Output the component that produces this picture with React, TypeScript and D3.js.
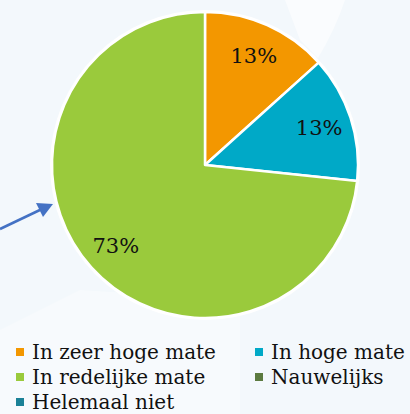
import React from "react";
import * as d3 from "d3";

const categories = ["In zeer hoge mate", "In hoge mate", "In redelijke mate", "Nauwelijks", "Helemaal niet"];
const values = [2, 2, 11, 0, 0];
const labels = ["13%", "13%", "73%", "", ""];
const colors = ["#F39700", "#00A9C7", "#9ACA3C", "#5B7A40", "#1B8197"];

const W = 410;
const H = 414;
const FONT = "'DejaVu Serif', 'Liberation Serif', Georgia, serif";

export default function App() {
  const cx = 205;
  const cy = 165;
  const r = 153;
  const pie = d3.pie<number>().sort(null).value((d) => d)(values);
  const arc = d3.arc<d3.PieArcDatum<number>>().innerRadius(0).outerRadius(r);
  const labelArc = d3.arc<d3.PieArcDatum<number>>().innerRadius(120).outerRadius(120);

  const legendPos = [
    { x: 16, y: 359 },
    { x: 255, y: 359 },
    { x: 16, y: 384 },
    { x: 255, y: 384 },
    { x: 16, y: 409 },
  ];

  return (
    <div style={{ position: "fixed", left: 0, top: 0 }}>
      <svg width={W} height={H} style={{ display: "block" }}>
        <rect x={0} y={0} width={W} height={H} fill="#F3F8FC" />
        <path d="M285,0 L345,0 Q335,30 318,58 L300,40 Z" fill="#FFFFFF" opacity={0.6} />
        <path d="M0,330 L80,290 L240,300 L240,414 L0,414 Z" fill="#FFFFFF" opacity={0.35} />
        <g transform={`translate(${cx},${cy})`}>
          <circle r={r + 2} fill="#FFFFFF" />
          {pie.map((p, i) =>
            p.value > 0 ? (
              <path key={i} d={arc(p) || ""} fill={colors[i]} stroke="#FFFFFF" strokeWidth={2.5} strokeLinejoin="round" />
            ) : null
          )}
          {pie.map((p, i) => {
            if (p.value <= 0) return null;
            const [lx, ly] = labelArc.centroid(p);
            return (
              <text
                key={"l" + i}
                x={lx}
                y={ly}
                dy="0.35em"
                textAnchor="middle"
                fontFamily={FONT}
                fontSize={21}
                fill="#111111"
              >
                {labels[i]}
              </text>
            );
          })}
        </g>
        <line x1={0} y1={229} x2={42} y2={209} stroke="#4472C4" strokeWidth={2.5} />
        <path d="M53,204 L36,203 L43,217 Z" fill="#4472C4" />
        {categories.map((c, i) => (
          <g key={c}>
            <rect x={legendPos[i].x} y={legendPos[i].y - 11} width={8} height={8} fill={colors[i]} />
            <text
              x={legendPos[i].x + 16}
              y={legendPos[i].y}
              fontFamily={FONT}
              fontSize={20}
              fill="#111111"
            >
              {c}
            </text>
          </g>
        ))}
      </svg>
    </div>
  );
}
